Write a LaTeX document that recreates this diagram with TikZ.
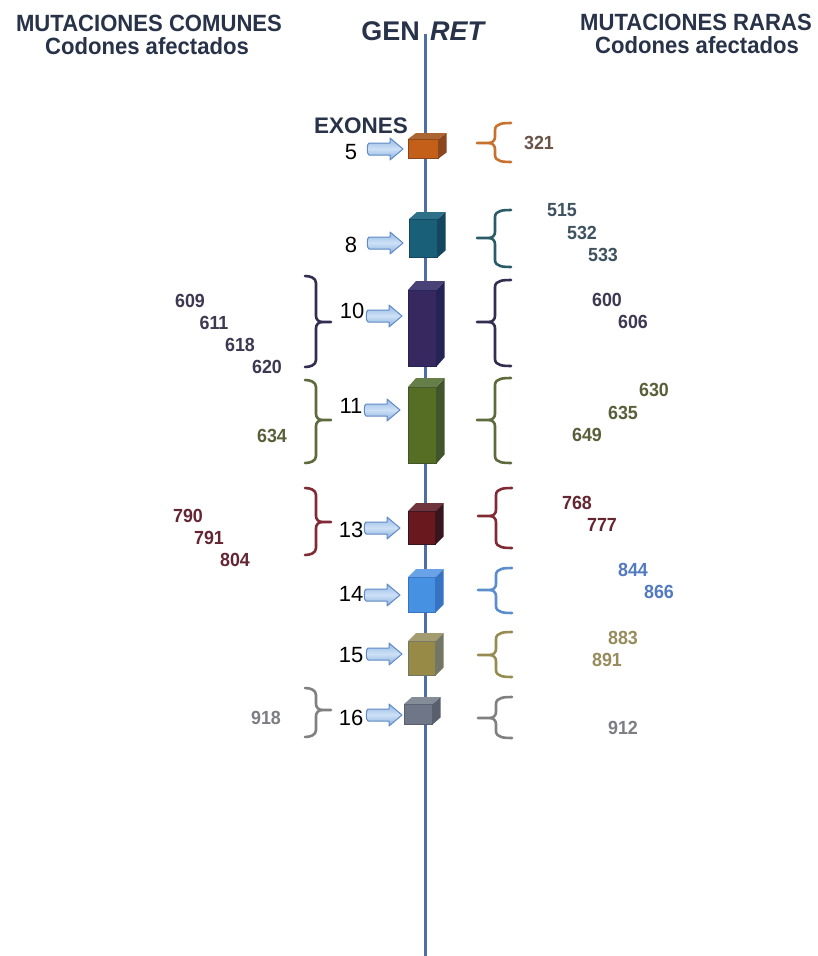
\documentclass[tikz,border=0pt]{standalone}
\usepackage{fontspec}
\setmainfont{Liberation Sans}
\newfontfamily\nfont[FakeStretch=0.94]{Liberation Sans}
\usetikzlibrary{shapes.arrows}

\definecolor{hdrc}{RGB}{40,50,72}
\definecolor{genline}{RGB}{78,110,165}
\definecolor{arrowtop}{RGB}{150,186,228}
\definecolor{arrowmid}{RGB}{205,225,246}
\definecolor{arrowbot}{RGB}{135,172,220}
\definecolor{arrowline}{RGB}{95,138,198}
% exon colours: front, side, top, brace, text
\definecolor{f5}{RGB}{195,95,25}\definecolor{s5}{RGB}{140,70,30}\definecolor{t5}{RGB}{172,102,52}
\definecolor{b5}{RGB}{200,112,45}\definecolor{x5}{RGB}{105,82,70}
\definecolor{f8}{RGB}{25,95,120}\definecolor{s8}{RGB}{20,70,95}\definecolor{t8}{RGB}{45,112,135}
\definecolor{b8}{RGB}{40,92,102}\definecolor{x8}{RGB}{62,82,96}
\definecolor{f10}{RGB}{55,40,95}\definecolor{s10}{RGB}{35,35,85}\definecolor{t10}{RGB}{72,66,118}
\definecolor{b10}{RGB}{52,45,82}\definecolor{x10}{RGB}{62,56,82}
\definecolor{f11}{RGB}{85,110,35}\definecolor{s11}{RGB}{65,85,45}\definecolor{t11}{RGB}{102,126,72}
\definecolor{b11}{RGB}{92,106,60}\definecolor{x11}{RGB}{88,96,58}
\definecolor{f13}{RGB}{105,25,30}\definecolor{s13}{RGB}{55,20,30}\definecolor{t13}{RGB}{112,52,62}
\definecolor{b13}{RGB}{128,42,52}\definecolor{x13}{RGB}{100,38,50}
\definecolor{f14}{RGB}{70,145,225}\definecolor{s14}{RGB}{55,115,195}\definecolor{t14}{RGB}{105,162,230}
\definecolor{b14}{RGB}{92,142,205}\definecolor{x14}{RGB}{82,122,192}
\definecolor{f15}{RGB}{150,138,70}\definecolor{s15}{RGB}{115,118,100}\definecolor{t15}{RGB}{162,156,112}
\definecolor{b15}{RGB}{150,140,82}\definecolor{x15}{RGB}{150,140,92}
\definecolor{f16}{RGB}{110,118,135}\definecolor{s16}{RGB}{90,95,110}\definecolor{t16}{RGB}{132,140,152}
\definecolor{b16}{RGB}{128,128,130}\definecolor{x16}{RGB}{125,125,132}

\tikzset{
  hdr/.style={font=\nfont\bfseries\fontsize{23.5}{26}\selectfont, text=hdrc, inner sep=0, anchor=base},
  titletxt/.style={font=\bfseries\fontsize{27}{30}\selectfont, text=hdrc, inner sep=0},
  exontitle/.style={font=\bfseries\fontsize{22.5}{25}\selectfont, text=hdrc, inner sep=0, anchor=base},
  exnum/.style={font=\fontsize{22}{24}\selectfont, text=black, inner sep=0},
  codon/.style={font=\nfont\bfseries\fontsize{19}{21}\selectfont, inner sep=0},
  xarrowst/.style={draw=arrowline, line width=1pt, line join=round,
    top color=arrowtop, bottom color=arrowbot, middle color=arrowmid},
  exbox/.style={anchor=north west, inner sep=0, draw=#1, line width=0.5pt},
  brc/.style={line width=2.6pt, line cap=round},
  geneline/.style={draw=genline, line width=3pt},
}

\newcommand\exonbox[9]{% name, x0, y0, width, height, front, side, top, dy
  \node[exbox=#7, fill=#6, minimum width=#4pt, minimum height=#5pt] (#1) at (#2,#3) {};
  \fill[#7] (#1.north east) -- ([shift={(8,-#9)}]#1.north east) -- ([shift={(8,-#9)}]#1.south east) -- (#1.south east) -- cycle;
  \fill[#8] (#1.north west) -- ([shift={(8,-#9)}]#1.north west) -- ([shift={(8,-#9)}]#1.north east) -- (#1.north east) -- cycle;
}
\newcommand\xarr[3]{% name, xtip, y
  \coordinate (#1) at (#2,#3);
  \draw[xarrowst] (#1) -- ++(-13,-11) -- ++(0,5) -- ++(-21,0)
     to[out=180,in=180,looseness=0.5] ++(0,12) -- ++(21,0) -- ++(0,5) -- cycle;
}
\newcommand\bracer[5]{% xspine, ytop, ybot, ytip, colour  -> "{"
  \draw[brc, #5] (#1+16,#2) to[out=180,in=90] (#1,#2+7) -- (#1,#4-6) to[out=-90,in=0] (#1-6,#4) -- (#1-18,#4);
  \draw[brc, #5] (#1+16,#3) to[out=180,in=-90] (#1,#3-7) -- (#1,#4+6) to[out=90,in=0] (#1-6,#4);
}
\newcommand\bracel[5]{% xspine, ytop, ybot, ytip, colour  -> "}"
  \draw[brc, #5] (#1-11,#2) to[out=0,in=90] (#1,#2+7) -- (#1,#4-6) to[out=-90,in=180] (#1+6,#4) -- (#1+15,#4);
  \draw[brc, #5] (#1-11,#3) to[out=0,in=-90] (#1,#3-7) -- (#1,#4+6) to[out=90,in=180] (#1+6,#4);
}

\begin{document}
\begin{tikzpicture}[x=1pt,y=-1pt]
\useasboundingbox (0,0) rectangle (817,956);
\fill[white] (0,0) rectangle (817,956);

% headers
\node[hdr] (hl1) at (149,31) {MUTACIONES COMUNES};
\node[hdr] (hl2) at (147,54) {Codones afectados};
\node[hdr] (hr1) at (696,30) {MUTACIONES RARAS};
\node[hdr] (hr2) at (697,53) {Codones afectados};
\node[titletxt, anchor=base east] (gen) at (420,40) {GEN};
\node[titletxt, anchor=base west] (ret) at (430,40) {\itshape RET};

% gene line
\coordinate (gtop) at (425,34);
\coordinate (gbot) at (425,956);
\draw[geneline] (gtop) -- (gbot);

% exons
\exonbox{e5}{408}{139}{30}{19}{f5}{s5}{t5}{6}
\exonbox{e8}{409}{219}{28}{38}{f8}{s8}{t8}{7}
\exonbox{e10}{408}{290}{28}{76}{f10}{s10}{t10}{9}
\exonbox{e11}{408}{387}{28}{76}{f11}{s11}{t11}{9}
\exonbox{e13}{408}{511}{27}{33}{f13}{s13}{t13}{8}
\exonbox{e14}{408}{577}{27}{35}{f14}{s14}{t14}{8}
\exonbox{e15}{408}{641}{27}{34}{f15}{s15}{t15}{8}
\exonbox{e16}{404}{704}{28}{20}{f16}{s16}{t16}{7}

\node[exontitle] (exones) at (361,133) {EXONES};

% arrows
\xarr{a5}{403}{149}
\xarr{a8}{403}{243}
\xarr{a10}{402}{316}
\xarr{a11}{400}{410}
\xarr{a13}{400}{528}
\xarr{a14}{400}{595}
\xarr{a15}{402}{654}
\xarr{a16}{402}{715}

% exon numbers
\node[exnum] (n5) at (351,152) {5};
\node[exnum] (n8) at (351,245) {8};
\node[exnum] (n10) at (352,311) {10};
\node[exnum] (n11) at (351,406) {11};
\node[exnum] (n13) at (351,530) {13};
\node[exnum] (n14) at (351,594) {14};
\node[exnum] (n15) at (351,655) {15};
\node[exnum] (n16) at (351,718) {16};

% right braces
\bracer{495}{123}{162}{143}{b5}
\bracer{495}{210}{267}{238}{b8}
\bracer{495}{280}{366}{322}{b10}
\bracer{495}{378}{463}{420}{b11}
\bracer{496}{488}{548}{516}{b13}
\bracer{496}{568}{613}{590}{b14}
\bracer{496}{632}{677}{655}{b15}
\bracer{496}{697}{738}{718}{b16}

% left braces
\bracel{316}{276}{367}{322}{b10}
\bracel{316}{380}{463}{420}{b11}
\bracel{316}{488}{555}{522}{b13}
\bracel{316}{688}{737}{710}{b16}

% codons, common (left)
\node[codon, text=x10] (c609) at (190,301) {609};
\node[codon, text=x10] (c611) at (214,323) {611};
\node[codon, text=x10] (c618) at (240,345) {618};
\node[codon, text=x10] (c620) at (267,367) {620};
\node[codon, text=x11] (c634) at (272,436) {634};
\node[codon, text=x13] (c790) at (188,516) {790};
\node[codon, text=x13] (c791) at (209,538) {791};
\node[codon, text=x13] (c804) at (235,560) {804};
\node[codon, text=x16] (c918) at (266,718) {918};

% codons, rare (right)
\node[codon, text=x5] (c321) at (539,143) {321};
\node[codon, text=x8] (c515) at (562,210) {515};
\node[codon, text=x8] (c532) at (582,233) {532};
\node[codon, text=x8] (c533) at (603,255) {533};
\node[codon, text=x10] (c600) at (607,300) {600};
\node[codon, text=x10] (c606) at (633,322) {606};
\node[codon, text=x11] (c630) at (654,390) {630};
\node[codon, text=x11] (c635) at (623,413) {635};
\node[codon, text=x11] (c649) at (587,435) {649};
\node[codon, text=x13] (c768) at (577,503) {768};
\node[codon, text=x13] (c777) at (602,525) {777};
\node[codon, text=x14] (c844) at (633,570) {844};
\node[codon, text=x14] (c866) at (659,592) {866};
\node[codon, text=x15] (c883) at (623,638) {883};
\node[codon, text=x15] (c891) at (607,660) {891};
\node[codon, text=x16] (c912) at (623,728) {912};
\end{tikzpicture}
\end{document}
